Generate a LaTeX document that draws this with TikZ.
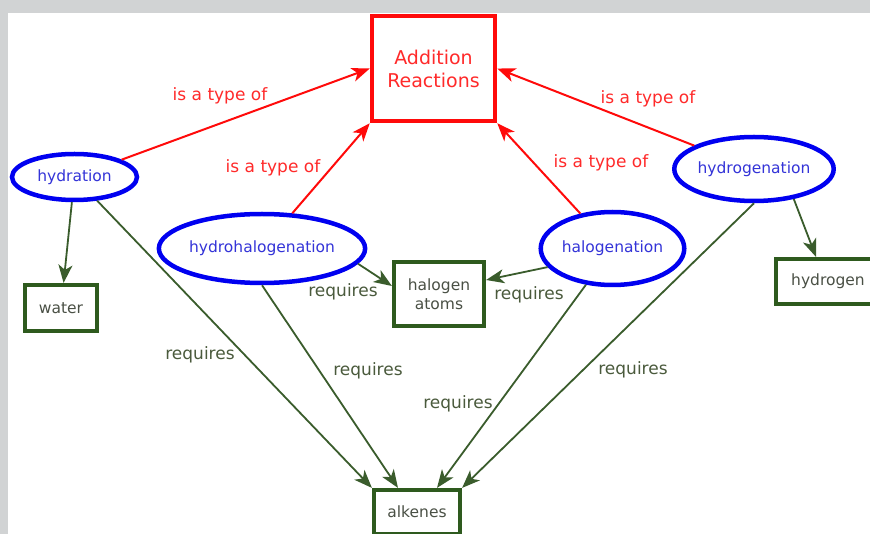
\documentclass[tikz,border=0pt]{standalone}
\usepackage{fontspec}
\setmainfont{DejaVu Sans}
\usetikzlibrary{shapes.geometric,arrows.meta}
\definecolor{bgray}{HTML}{D1D3D4}
\definecolor{cblue}{HTML}{0000F0}
\definecolor{cbluetext}{HTML}{3434D8}
\definecolor{cred}{HTML}{FF0A0A}
\definecolor{credtext}{HTML}{FF2A2A}
\definecolor{cgreen}{HTML}{2E5A1E}
\definecolor{cgreenline}{HTML}{3A5C2C}
\definecolor{cgreentext}{HTML}{4A5A3C}
\definecolor{cboxtext}{HTML}{4A5045}
\tikzset{
  concept/.style={ellipse, draw=cblue, line width=4.5pt, inner sep=0pt, text=cbluetext,
    font=\fontsize{15.5}{18}\selectfont},
  gbox/.style={rectangle, draw=cgreen, line width=4.2pt, inner sep=0pt, text=cboxtext,
    align=center, font=\fontsize{15.5}{19}\selectfont},
  rbox/.style={rectangle, draw=cred, line width=4.5pt, inner sep=0pt, text=credtext,
    align=center, font=\fontsize{19}{23}\selectfont},
  isa/.style={draw=cred, line width=2pt, -{Stealth[length=18pt,width=14pt,inset=5pt]}},
  req/.style={draw=cgreenline, line width=1.8pt, -{Stealth[length=18pt,width=14pt,inset=5pt]}},
  rlab/.style={text=credtext, inner sep=1pt, font=\fontsize{17}{20}\selectfont},
  glab/.style={text=cgreentext, inner sep=1pt, font=\fontsize{17}{20}\selectfont}
}
\begin{document}
\begin{tikzpicture}[x=1pt,y=-1pt]
\useasboundingbox (0,0) rectangle (870,534);
\fill[bgray] (0,0) rectangle (870,534);
\fill[white] (8,13) rectangle (870,534);
\clip (8,13) rectangle (870,534);
% nodes
\node[rbox, minimum width=123pt, minimum height=105pt] (add) at (433.5,68.5) {Addition\\Reactions};
\node[concept, minimum width=125pt, minimum height=46pt] (hydration) at (74.5,177) {hydration};
\node[concept, minimum width=192pt, minimum height=69pt] (hydrohal) at (262,248.5) {hydrohalogenation};
\node[concept, minimum width=139pt, minimum height=73pt] (halog) at (612.5,248.5) {halogenation};
\node[concept, minimum width=158pt, minimum height=64pt] (hydrog) at (754,169) {hydrogenation};
\node[gbox, minimum width=72pt, minimum height=46pt] (water) at (61,308) {water};
\node[gbox, minimum width=90pt, minimum height=64pt] (halatoms) at (439,294) {halogen\\atoms};
\node[gbox, minimum width=104pt, minimum height=45pt] (hydrogen) at (828,281.5) {hydrogen};
\node[gbox, minimum width=86pt, minimum height=44pt] (alkenes) at (417,512) {alkenes};
% is a type of
\draw[isa] (hydration) -- (add.west);
\draw[isa] (hydrohal) -- (add.south west);
\draw[isa] (halog) -- (add.south east);
\draw[isa] (hydrog) -- (add.east);
% requires
\draw[req] (hydration) -- (water);
\draw[req] (hydration) -- (alkenes.north west);
\draw[req] (hydrohal.-9) -- ([yshift=8pt]halatoms.west);
\draw[req] (hydrohal.south) -- ([xshift=-19pt]alkenes.north);
\draw[req] (halog.196) -- ([yshift=14pt]halatoms.east);
\draw[req] (halog) -- ([xshift=20pt]alkenes.north);
\draw[req] (hydrog.south) -- (alkenes.north east);
\draw[req] (hydrog.-37) -- ([xshift=-12pt]hydrogen.north);
% labels
\node[rlab] (l1) at (220,96) {is a type of};
\node[rlab] (l2) at (273,168) {is a type of};
\node[rlab] (l3) at (601,163) {is a type of};
\node[rlab] (l4) at (648,99) {is a type of};
\node[glab] (r1) at (200,355) {requires};
\node[glab] (r2) at (343,292) {requires};
\node[glab] (r3) at (368,371) {requires};
\node[glab] (r4) at (529,295) {requires};
\node[glab] (r5) at (458,404) {requires};
\node[glab] (r6) at (633,370) {requires};
\end{tikzpicture}
\end{document}
